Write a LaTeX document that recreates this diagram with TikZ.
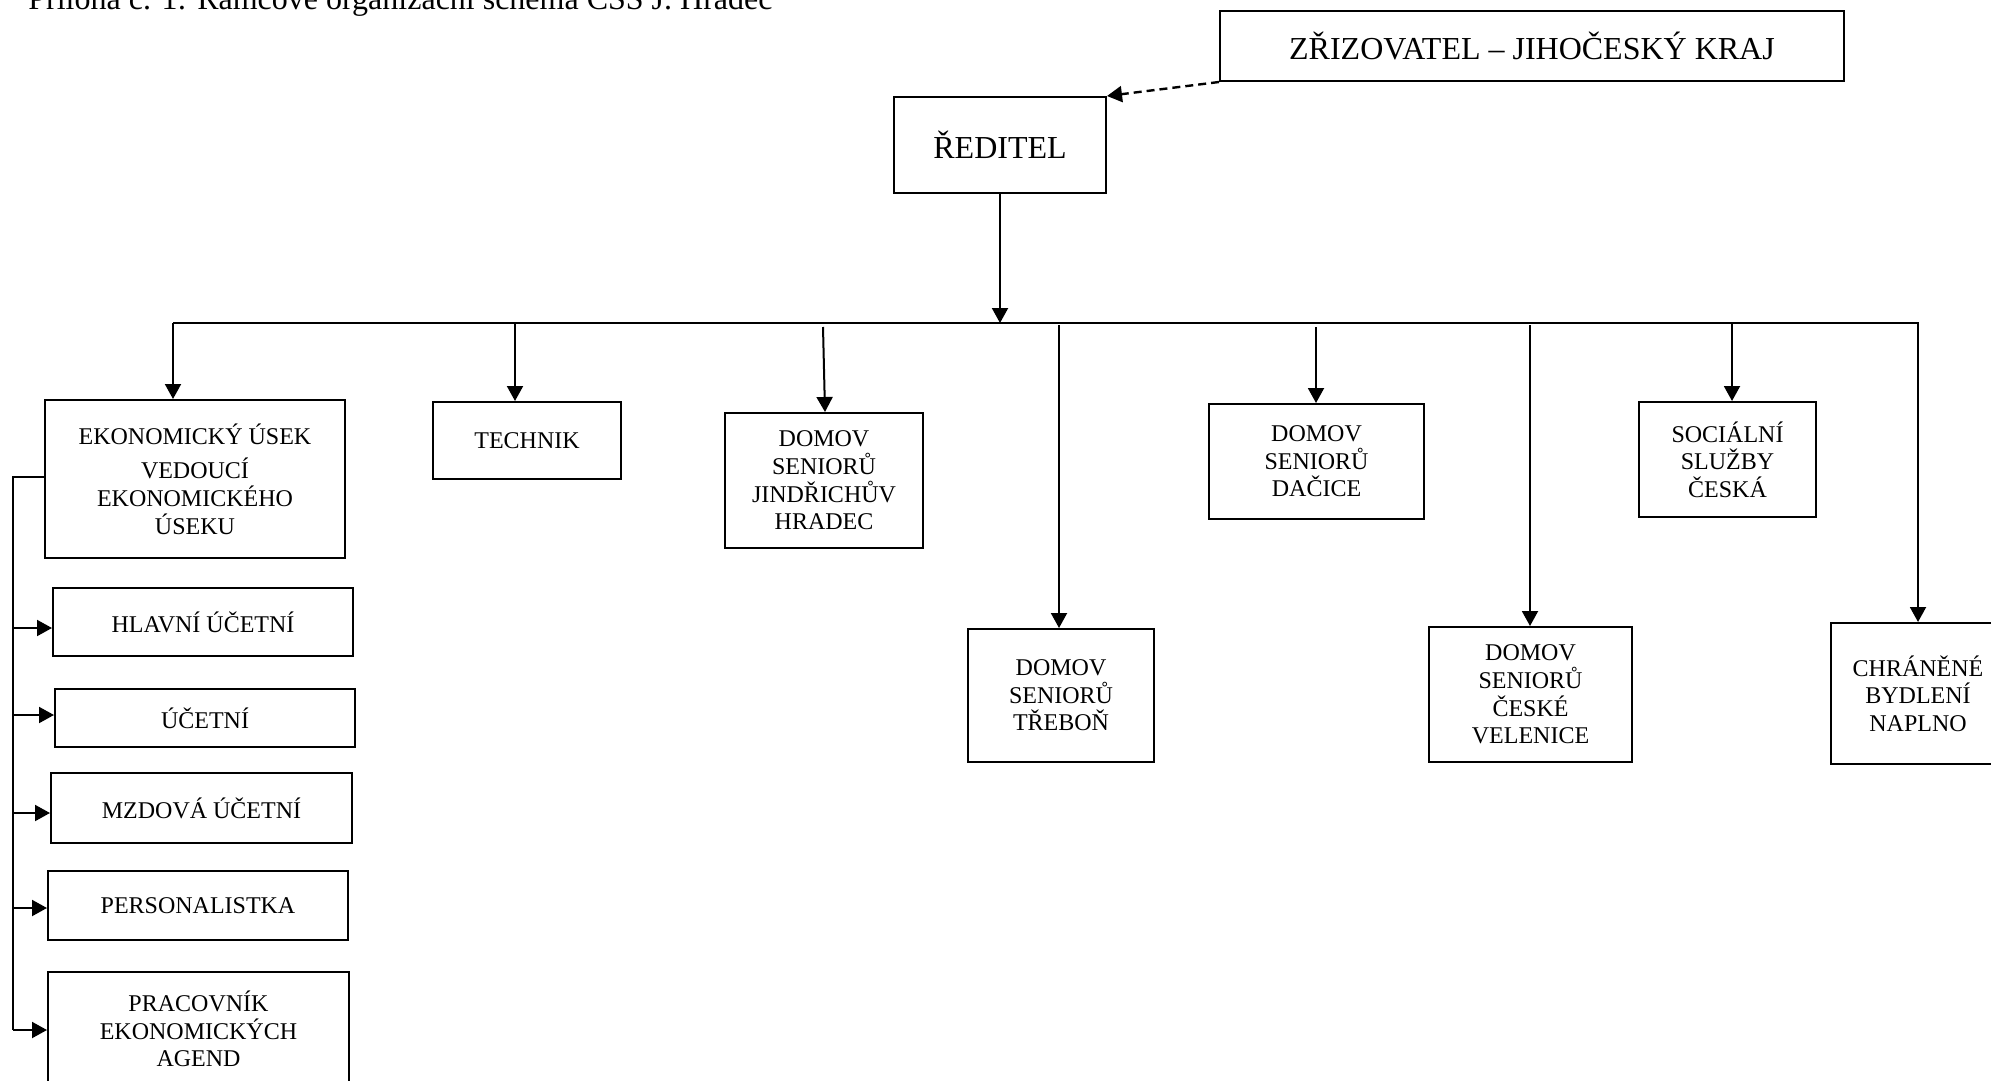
\documentclass[tikz,border=0pt]{standalone}
\usepackage{fontspec}
\setmainfont{Liberation Serif}
\usetikzlibrary{arrows.meta}
\tikzstyle{box} = [rectangle, draw, line width = 1pt, align = center, inner sep = 0pt, font = \fontsize{12}{13.8}\selectfont]
\tikzstyle{bigbox} = [box, font = \fontsize{16}{18.4}\selectfont]
\tikzstyle{arr} = [-{Triangle[length = 7.5pt, width = 8pt]}, line width = 1pt]

\begin{document}
\begin{tikzpicture}[x = 0.5pt, y = -0.5pt]
        \useasboundingbox (0, 0) rectangle (1991, 1081);
        \node (Title) at (28, 10) [anchor = base west, inner sep = 0pt, font = \fontsize{16}{18.4}\selectfont] {Příloha č. 1: Rámcové organizační schéma CSS J. Hradec};

        \node (Zriz) at (1532, 46) [bigbox, minimum width = 312pt, minimum height = 35pt] {ZŘIZOVATEL – JIHOČESKÝ KRAJ};
        \node (Reditel) at (1000, 145) [bigbox, minimum width = 106pt, minimum height = 48pt] {ŘEDITEL};
        \draw [arr, line width = 1.2pt, dash pattern = on 4pt off 2.5pt] (Zriz.south west) -- (Reditel.north east);

        \node (Ekon) at (195, 479) [box, minimum width = 150pt, minimum height = 79pt] {EKONOMICKÝ ÚSEK\\[3.5pt] VEDOUCÍ\\ EKONOMICKÉHO\\ ÚSEKU};
        \node (Technik) at (527, 440.5) [box, minimum width = 94pt, minimum height = 38.5pt] {TECHNIK};
        \node (JHradec) at (824, 480.5) [box, minimum width = 99pt, minimum height = 67.5pt] {DOMOV\\ SENIORŮ\\ JINDŘICHŮV\\ HRADEC};
        \node (Trebon) at (1061, 695.5) [box, minimum width = 93pt, minimum height = 66.5pt] {DOMOV\\ SENIORŮ\\ TŘEBOŇ};
        \node (Dacice) at (1316.5, 461.5) [box, minimum width = 107.5pt, minimum height = 57.5pt] {DOMOV\\ SENIORŮ\\ DAČICE};
        \node (Velenice) at (1530.5, 694.5) [box, minimum width = 101.5pt, minimum height = 67.5pt] {DOMOV\\ SENIORŮ\\ ČESKÉ\\ VELENICE};
        \node (Socialni) at (1727.5, 459.5) [box, minimum width = 88.5pt, minimum height = 57.5pt] {SOCIÁLNÍ\\ SLUŽBY\\ ČESKÁ};
        \node (Chranene) at (1918, 693.5) [box, minimum width = 87pt, minimum height = 70.5pt] {CHRÁNĚNÉ\\ BYDLENÍ\\ NAPLNO};

        \node (Hlavni) at (203, 622) [box, minimum width = 150pt, minimum height = 34pt] {HLAVNÍ ÚČETNÍ};
        \node (Ucetni) at (205, 718) [box, minimum width = 150pt, minimum height = 29pt] {ÚČETNÍ};
        \node (Mzdova) at (201.5, 808) [box, minimum width = 150.5pt, minimum height = 35pt] {MZDOVÁ ÚČETNÍ};
        \node (Personal) at (198, 905.5) [box, minimum width = 150pt, minimum height = 34.5pt] {PERSONALISTKA};
        \node (Pracovnik) at (198.5, 1029) [box, minimum width = 150.5pt, minimum height = 57pt] {PRACOVNÍK\\ EKONOMICKÝCH\\ AGEND};

        % sbernice pod reditelem
        \coordinate (BusL) at (173, 323);
        \coordinate (BusR) at (1918, 323);
        \draw [arr] (Reditel) -- (Reditel |- BusL);
        \draw [arr] (BusL) -- (BusR) -- (BusR |- Chranene.north);
        \draw [arr] (BusL) -- (BusL |- Ekon.north);

        \coordinate (BTech) at (515, 323);
        \coordinate (BJh) at (823, 327);
        \coordinate (BTreb) at (1059, 325);
        \coordinate (BDac) at (1316, 327);
        \coordinate (BVel) at (1530, 325);
        \coordinate (BSoc) at (1732, 323);
        \draw [arr] (BTech) -- (BTech |- Technik.north);
        \draw [arr] (BJh) -- ([xshift = 1pt] BJh |- JHradec.north);
        \draw [arr] (BTreb) -- (BTreb |- Trebon.north);
        \draw [arr] (BDac) -- (BDac |- Dacice.north);
        \draw [arr] (BVel) -- (BVel |- Velenice.north);
        \draw [arr] (BSoc) -- (BSoc |- Socialni.north);

        % ekonomicky usek
        \coordinate (Side) at (13, 477);
        \coordinate (S1) at (13, 628);
        \coordinate (S2) at (13, 715);
        \coordinate (S3) at (13, 813);
        \coordinate (S4) at (13, 908);
        \coordinate (S5) at (13, 1030);
        \draw [line width = 1pt] (Ekon.west |- Side) -- (Side) -- (S5);
        \draw [arr] (S1) -- (S1 -| Hlavni.west);
        \draw [arr] (S2) -- (S2 -| Ucetni.west);
        \draw [arr] (S3) -- (S3 -| Mzdova.west);
        \draw [arr] (S4) -- (S4 -| Personal.west);
        \draw [arr] (S5) -- (S5 -| Pracovnik.west);
\end{tikzpicture}
\end{document}
